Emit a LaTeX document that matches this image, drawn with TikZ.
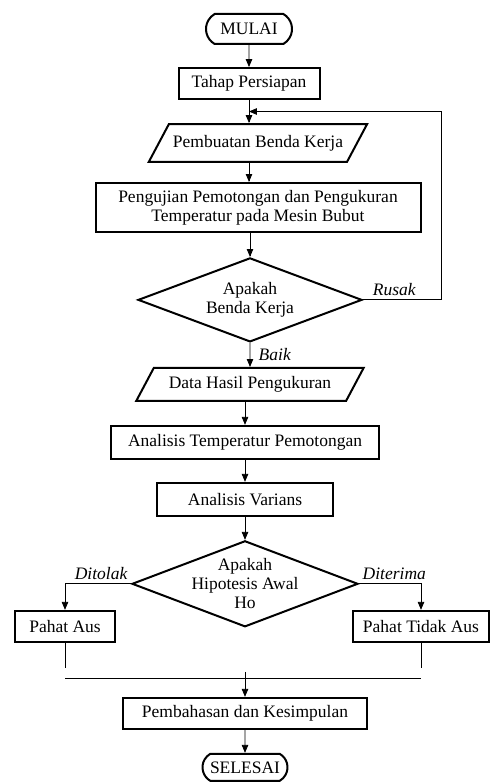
\documentclass[tikz,border=0pt]{standalone}
\usepackage{fontspec}
\setmainfont{Liberation Serif}
\usepackage{tikz}
\usetikzlibrary{arrows,calc,positioning,shapes}

\begin{document}
\begin{tikzpicture}[node distance=23pt, font=\fontsize{17.5}{19}\selectfont]
    \tikzstyle{box} = [draw,line width=2pt,minimum height=31pt,inner sep=2pt]
    \tikzstyle{io} = [draw,line width=2pt,trapezium,trapezium left angle=62,trapezium right angle=118,inner xsep=4pt,inner ysep=11pt]
    \tikzstyle{term} = [draw,line width=2pt,rounded rectangle,rounded rectangle arc length=120,minimum height=30pt,inner sep=2pt]
    \tikzstyle{dec} = [draw,line width=2pt,diamond,aspect=2.6,inner sep=-6pt,align=center]
    \tikzstyle{edge} = [-triangle 45,line width=0.8pt]
    \tikzstyle{line} = [line width=0.8pt]
    \tikzstyle{lbl} = [font=\fontsize{17.5}{19}\selectfont\itshape]

    \useasboundingbox (0,0) rectangle (493pt,-783pt);

    \node[term,minimum width=90pt] (mulai) at (249pt,-29pt) {MULAI};
    \node[box,minimum width=141pt] (tahap) [below=22pt of mulai] {Tahap Persiapan};
    \node[io] (buat) [below=of tahap,xshift=9pt] {Pembuatan Benda Kerja};
    \node[box,minimum width=325pt,minimum height=49pt,align=center] (uji) [below=19pt of buat] {Pengujian Pemotongan dan Pengukuran\\Temperatur pada Mesin Bubut};
    \node[dec,minimum width=224pt,minimum height=84pt] (dec1) [below=24pt of uji,xshift=-8pt] {Apakah\\Benda Kerja};
    \node[io,inner xsep=15pt,inner ysep=8.5pt] (data) [below=24pt of dec1] {Data Hasil Pengukuran};
    \node[box,minimum width=268pt,minimum height=33pt] (temp) [below=of data,xshift=-5pt] {Analisis Temperatur Pemotongan};
    \node[box,minimum width=176pt,minimum height=33pt] (varians) [below=22pt of temp] {Analisis Varians};
    \node[dec,minimum width=226pt,minimum height=86pt] (dec2) [below=of varians] {Apakah\\Hipotesis Awal\\Ho};
    \node[box,minimum width=100pt] (aus) [below left=26pt and 15pt of dec2.west] {Pahat Aus};
    \node[box,minimum width=136pt] (tidak) [below right=26pt and -7pt of dec2.east] {Pahat Tidak Aus};
    \node[box,minimum width=244pt] (bahas) [below=69pt of dec2] {Pembahasan dan Kesimpulan};
    \node[term,minimum width=89pt,minimum height=27pt] (selesai) [below=of bahas] {SELESAI};

    \coordinate (back) at ($(tahap.south)!0.5!(buat.north -| tahap)$);

    \draw[edge] (mulai) -- (tahap);
    \draw[edge] (tahap) -- (buat.north -| tahap);
    \draw[edge] (buat.south -| tahap) -- (uji.north -| tahap);
    \draw[edge] (uji.south -| dec1) -- (dec1);
    \draw[edge] (dec1.east) -- node[lbl,above,pos=0.4] {Rusak} ++(78pt,0) |- (back);
    \draw[edge] (dec1) -- node[lbl,right,xshift=5pt] {Baik} (data);
    \draw[edge] (data.south -| temp) -- (temp);
    \draw[edge] (temp) -- (varians);
    \draw[edge] (varians) -- (dec2);
    \draw[edge] (dec2.west) node[lbl,above left] {Ditolak} -| (aus);
    \draw[edge] (dec2.east) node[lbl,above right] {Diterima} -| (tidak);

    \coordinate[below=25pt of aus] (ausend);
    \coordinate[below=25pt of tidak] (tidakend);
    \coordinate[below=11pt of ausend] (joinl);
    \coordinate[below=11pt of tidakend] (joinr);
    \coordinate[above=25pt of bahas] (jointop);
    \draw[line] (aus) -- (ausend);
    \draw[line] (tidak) -- (tidakend);
    \draw[line] (joinl) -- (joinr);
    \draw[edge] (jointop) -- (bahas);
    \draw[edge] (bahas) -- (selesai);
\end{tikzpicture}
\end{document}
